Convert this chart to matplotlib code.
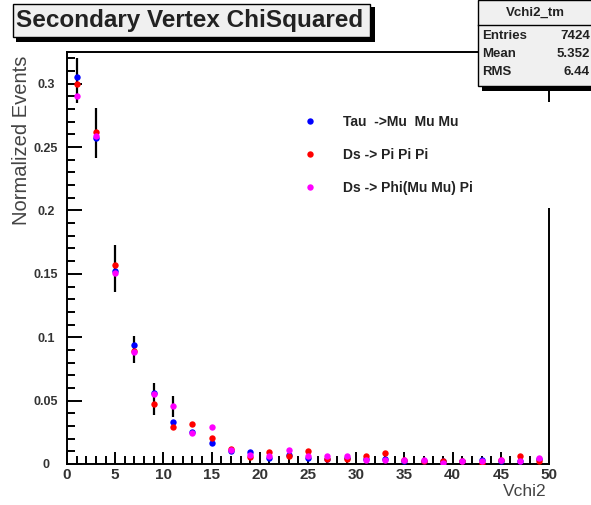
import matplotlib
matplotlib.use("Agg")
import matplotlib.pyplot as plt
from matplotlib.patches import Rectangle
from matplotlib.ticker import MultipleLocator
import numpy as np

plt.rcParams['font.family'] = ['Liberation Sans', 'DejaVu Sans']

# Vchi2 bins (width 2, centres 1..49)
bin_centers = np.arange(1, 50, 2)

tau_mumumu = [0.305, 0.257, 0.152, 0.094, 0.056, 0.033, 0.025, 0.0165, 0.010, 0.0095,
              0.005, 0.007, 0.005, 0.004, 0.005, 0.004, 0.004, 0.002, 0.002, 0.002,
              0.002, 0.003, 0.002, 0.002, 0.004]
ds_pipipi = [0.300, 0.262, 0.157, 0.089, 0.047, 0.029, 0.0315, 0.0205, 0.012, 0.0055,
             0.0095, 0.006, 0.010, 0.004, 0.004, 0.006, 0.0085, 0.003, 0.002, 0.002,
             0.002, 0.001, 0.003, 0.006, 0.002]
ds_phipi = [0.290, 0.259, 0.151, 0.088, 0.055, 0.046, 0.0245, 0.029, 0.011, 0.007,
            0.006, 0.011, 0.006, 0.006, 0.006, 0.003, 0.003, 0.003, 0.003, 0.001,
            0.002, 0.002, 0.003, 0.002, 0.005]

# black error bars on the first bins
err_x = [1, 3, 5, 7, 9, 11]
err_center = [0.3025, 0.261, 0.1545, 0.0905, 0.0515, 0.0455]
err_half = [0.0175, 0.020, 0.0185, 0.0105, 0.0125, 0.0085]

series = [
    ("Tau  ->Mu  Mu Mu", tau_mumumu, "#0000ff"),
    ("Ds -> Pi Pi Pi", ds_pipipi, "#ff0000"),
    ("Ds -> Phi(Mu Mu) Pi", ds_phipi, "#ff00ff"),
]

W, H = 591, 505
fig = plt.figure(figsize=(W / 100, H / 100), dpi=100)


def fx(px):
    return px / W


def fy(py):
    return 1 - py / H


ax = fig.add_axes([fx(67), fy(464), fx(549) - fx(67), fy(52) - fy(464)])

ax.vlines(err_x, np.array(err_center) - np.array(err_half),
          np.array(err_center) + np.array(err_half), color="black", lw=1.6, zorder=2)

for label, vals, col in series:
    ax.plot(bin_centers, vals, ls="none", marker="o", ms=4.6, mew=0,
            color=col, label=label, zorder=3)

ax.set_xlim(0, 50)
ax.set_ylim(0, 0.325)
ax.xaxis.set_major_locator(MultipleLocator(5))
ax.xaxis.set_minor_locator(MultipleLocator(1))
ax.yaxis.set_minor_locator(MultipleLocator(0.01))
ax.set_yticks([0, 0.05, 0.1, 0.15, 0.2, 0.25, 0.3])
ax.set_yticklabels(["0", "0.05", "0.1", "0.15", "0.2", "0.25", "0.3"])

ax.tick_params(which="both", direction="in", top=False, right=False, width=1.4)
ax.tick_params(axis="y", which="major", length=11, labelsize=9, pad=15)
ax.tick_params(axis="y", which="minor", length=5.5)
ax.tick_params(axis="x", which="major", length=9, labelsize=11, pad=3)
ax.tick_params(axis="x", which="minor", length=5.5)
for lab in ax.get_xticklabels() + ax.get_yticklabels():
    lab.set_fontweight("bold")
    lab.set_color("#333333")
for lab in ax.get_yticklabels():
    lab.set_horizontalalignment("center")
for sp in ax.spines.values():
    sp.set_linewidth(1.4)

fig.text(fx(547), fy(492), "Vchi2", ha="right", va="center",
         fontsize=12.5, color="#444444")
fig.text(fx(22), fy(56), "Normalized Events", rotation=90, ha="center", va="top",
         fontsize=14.5, color="#444444")

leg = ax.legend(loc="upper left", bbox_to_anchor=(fx(290), fy(208), fx(557) - fx(290), fy(102) - fy(208)),
                bbox_transform=fig.transFigure, mode="expand", borderaxespad=0, borderpad=0.95,
                frameon=True, fancybox=False, facecolor="white", edgecolor="white",
                framealpha=1, handlelength=1.0, handletextpad=1.9, labelspacing=1.35,
                prop={"size": 10, "weight": "bold"})
leg.get_frame().set_linewidth(0)
leg.set_zorder(10)
for t in leg.get_texts():
    t.set_color("#222222")

# title box with shadow
fig.add_artist(Rectangle((fx(16), fy(42)), fx(375) - fx(16), fy(7) - fy(42),
                         transform=fig.transFigure, facecolor="black", edgecolor="none"))
fig.add_artist(Rectangle((fx(13), fy(37)), fx(370) - fx(13), fy(4) - fy(37),
                         transform=fig.transFigure, facecolor="#f0f0f0",
                         edgecolor="black", lw=1.0))
fig.text(fx(190), fy(20), "Secondary Vertex ChiSquared", ha="center", va="center",
         fontsize=17.5, fontweight="bold", color="#222222")

# statistics box
fig.add_artist(Rectangle((fx(482), fy(91)), fx(600) - fx(482), fy(80) - fy(91),
                         transform=fig.transFigure, facecolor="black", edgecolor="none"))
fig.add_artist(Rectangle((fx(478), fy(86)), fx(600) - fx(478), fy(0) - fy(86),
                         transform=fig.transFigure, facecolor="#f0f0f0",
                         edgecolor="black", lw=1.0))
fig.add_artist(plt.Line2D([fx(478), fx(600)], [fy(25), fy(25)],
                          transform=fig.transFigure, color="black", lw=1.0))
fig.text(fx(535), fy(13), "Vchi2_tm", ha="center", va="center",
         fontsize=9.5, fontweight="bold", color="#222222")
stats = [("Entries", "7424"), ("Mean", "5.352"), ("RMS", "6.44")]
for i, (name, val) in enumerate(stats):
    yy = fy(36 + i * 18)
    fig.text(fx(482), yy, name, ha="left", va="center", fontsize=9.5,
             fontweight="bold", color="#222222")
    fig.text(fx(590), yy, val, ha="right", va="center", fontsize=9.5,
             fontweight="bold", color="#222222")

fig.savefig("out.png", dpi=100)
